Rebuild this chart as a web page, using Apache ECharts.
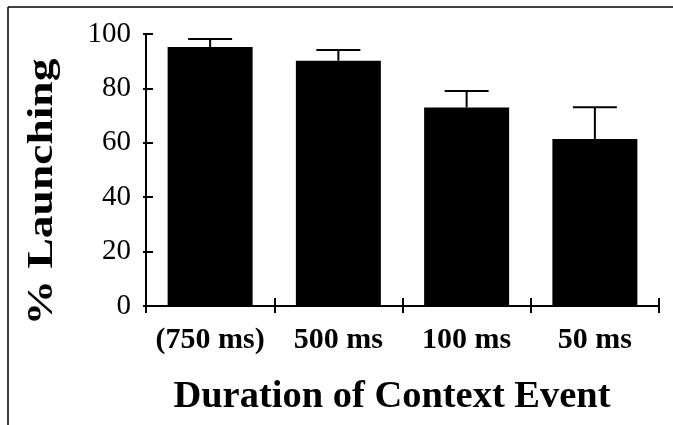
<!DOCTYPE html>
<html>
<head>
<meta charset="utf-8">
<script src="https://cdn.jsdelivr.net/npm/echarts@6/dist/echarts.min.js"></script>
<style>html,body{margin:0;padding:0;background:#fff}#c{width:673px;height:425px}</style>
</head>
<body>
<div id="c"></div>
<script>
var categories = ['(750 ms)', '500 ms', '100 ms', '50 ms'];
var means = [95.2, 90.2, 73.0, 61.4];
var errors = [3.0, 3.9, 6.0, 11.7];
var yTitle = '% Launching';
var xTitle = 'Duration of Context Event';

var chart = echarts.init(document.getElementById('c'), null, {renderer: 'canvas'});
var serif = '"Liberation Serif", "Times New Roman", serif';

var option = {
  animation: false,
  backgroundColor: '#fff',
  grid: {left: 146, right: 14, top: 34, bottom: 119, containLabel: false},
  xAxis: [{
    type: 'category', data: categories, position: 'bottom',
    axisLine: {show: true, lineStyle: {color: '#000', width: 2}},
    axisTick: {show: true, inside: false, length: 7, lineStyle: {color: '#000', width: 2}},
    axisLabel: {color: '#000', fontFamily: serif, fontWeight: 'bold', fontSize: 30, margin: 19, interval: 0, hideOverlap: false},
    splitLine: {show: false}
  }, {
    type: 'category', data: categories, position: 'bottom', offset: 0,
    axisLine: {show: false},
    axisTick: {show: true, inside: true, length: 8, lineStyle: {color: '#000', width: 2}},
    axisLabel: {show: false},
    splitLine: {show: false}
  }],
  yAxis: [{
    type: 'value', min: 0, max: 100, interval: 20, position: 'left',
    axisLine: {show: true, lineStyle: {color: '#000', width: 2}},
    axisTick: {show: true, inside: true, length: 7, lineStyle: {color: '#000', width: 2}},
    axisLabel: {color: '#000', fontFamily: serif, fontSize: 29, margin: 15},
    splitLine: {show: false}
  }, {
    type: 'value', min: 0, max: 100, interval: 20, position: 'left', offset: 0,
    axisLine: {show: false},
    axisTick: {show: true, inside: false, length: 3, lineStyle: {color: '#000', width: 2}},
    axisLabel: {show: false},
    splitLine: {show: false}
  }],
  series: [{
    type: 'bar', data: means, barWidth: 85,
    itemStyle: {color: '#000'}
  }, {
    type: 'custom',
    data: means.map(function (m, i) { return [i, m, m + errors[i]]; }),
    renderItem: function (params, api) {
      var i = api.value(0);
      var lo = api.coord([i, api.value(1)]);
      var hi = api.coord([i, api.value(2)]);
      var hw = 22;
      return {
        type: 'group',
        children: [{
          type: 'line', shape: {x1: lo[0], y1: lo[1], x2: hi[0], y2: hi[1]},
          style: {stroke: '#000', lineWidth: 2}
        }, {
          type: 'line', shape: {x1: hi[0] - hw, y1: hi[1], x2: hi[0] + hw, y2: hi[1]},
          style: {stroke: '#000', lineWidth: 2}
        }]
      };
    },
    z: 3
  }],
  graphic: [{
    type: 'line', shape: {x1: 8, y1: 7, x2: 673, y2: 7},
    style: {stroke: '#000', lineWidth: 1.5}
  }, {
    type: 'line', shape: {x1: 8, y1: 7, x2: 8, y2: 425},
    style: {stroke: '#000', lineWidth: 1.5}
  }, {
    type: 'text', x: 43, y: 192, rotation: Math.PI / 2, scaleX: 1.3,
    style: {text: yTitle, fontFamily: serif, fontWeight: 'bold', fontSize: 35,
      fill: '#000', textAlign: 'center', textVerticalAlign: 'middle'}
  }, {
    type: 'text', x: 392, y: 397, scaleX: 1.04,
    style: {text: xTitle, fontFamily: serif, fontWeight: 'bold', fontSize: 37,
      fill: '#000', textAlign: 'center', textVerticalAlign: 'middle'}
  }]
};
chart.setOption(option);
</script>
</body>
</html>
